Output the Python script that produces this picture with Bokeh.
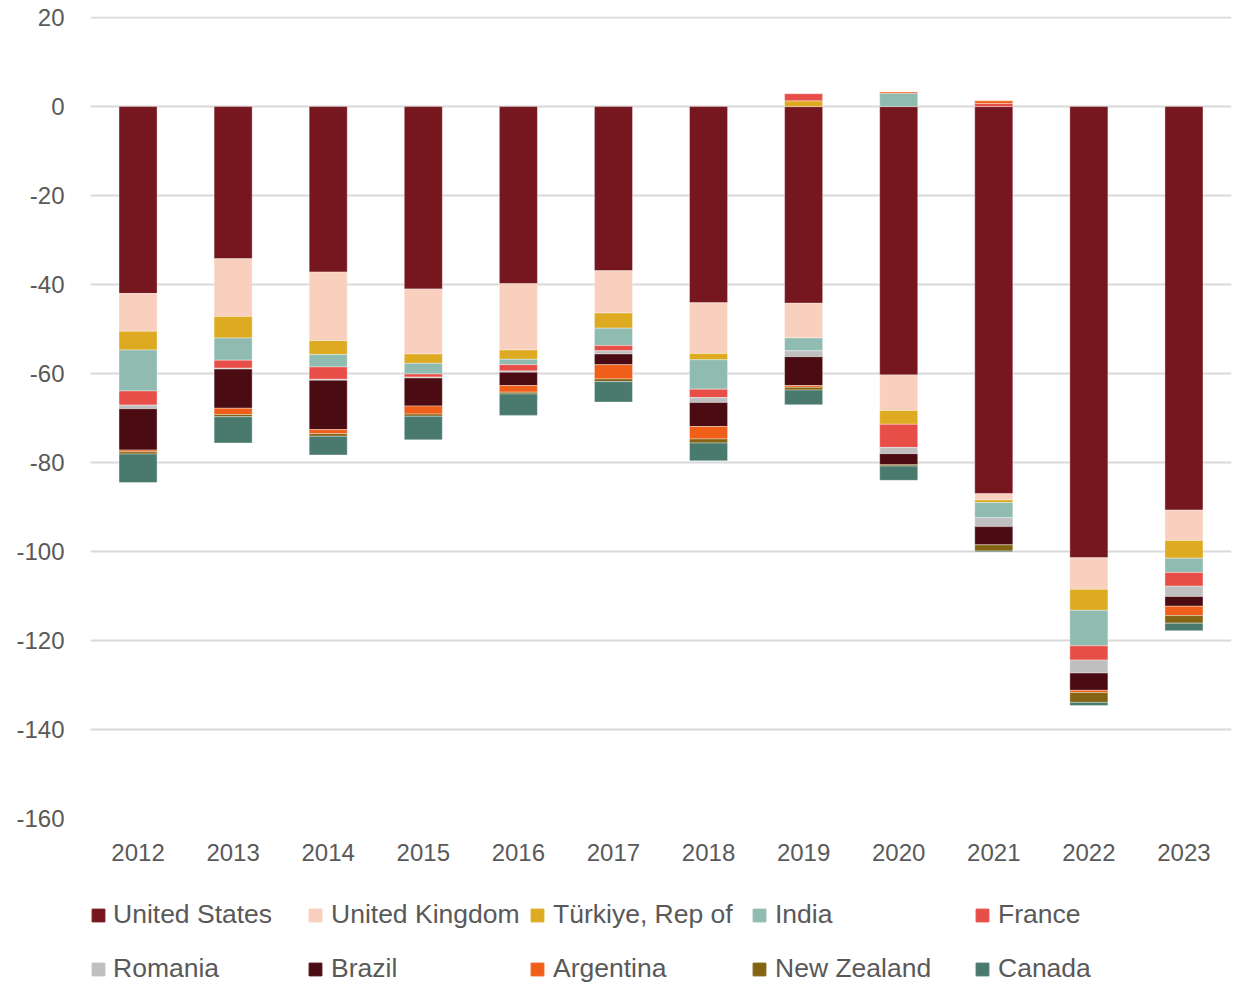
import numpy as np
from bokeh.plotting import figure
from bokeh.layouts import column
from bokeh.models import (ColumnDataSource, Range1d, FixedTicker, Legend, LegendItem,
                          FactorRange, PrintfTickFormatter)
from bokeh.embed import file_html
from bokeh.resources import INLINE

years = [str(y) for y in range(2012, 2024)]

united_states = [-42.0, -34.2, -37.2, -41.0, -39.8, -36.9, -44.1, -44.2, -60.3, -87.0, -101.4, -90.7]
united_kingdom = [-8.5, -13.0, -15.4, -14.6, -14.9, -9.5, -11.4, -7.8, -8.0, -1.4, -7.1, -6.8]
turkiye = [-4.2, -4.8, -3.1, -2.1, -2.1, -3.4, -1.4, 1.3, -3.1, -0.6, -4.7, -4.0]
india = [-9.2, -5.0, -2.8, -2.4, -1.2, -3.9, -6.6, -2.9, 3.0, -3.4, -8.0, -3.2]
france = [-3.2, -1.8, -2.8, -0.7, -1.4, -1.2, -1.9, 1.6, -5.2, 0.7, -3.2, -3.1]
romania = [-0.8, -0.2, -0.2, -0.2, -0.3, -0.7, -1.1, -1.3, -1.4, -2.0, -2.9, -2.3]
brazil = [-9.3, -8.8, -11.1, -6.3, -3.0, -2.4, -5.4, -6.5, -2.5, -4.1, -3.9, -2.2]
argentina = [-0.4, -1.4, -0.9, -1.8, -1.5, -3.2, -2.8, -0.4, 0.3, 0.6, -0.5, -2.1]
new_zealand = [-0.5, -0.5, -0.6, -0.5, -0.4, -0.6, -0.9, -0.6, -0.3, -1.4, -2.2, -1.7]
canada = [-6.4, -5.9, -4.2, -5.3, -4.8, -4.6, -4.0, -3.3, -3.2, -0.2, -0.7, -1.7]

names = ["United States", "United Kingdom", "Türkiye, Rep of", "India", "France",
         "Romania", "Brazil", "Argentina", "New Zealand", "Canada"]
values = [united_states, united_kingdom, turkiye, india, france,
          romania, brazil, argentina, new_zealand, canada]
colors = ["#76161E", "#F9CFBD", "#DDAA22", "#90BBB0", "#E84E48",
          "#BFBFBF", "#4A0C12", "#F05F1A", "#846414", "#4A7A6E"]

y_ticks = [-160, -140, -120, -100, -80, -60, -40, -20, 0, 20]

FONT = "Liberation Sans"
TXT = "#595959"

p = figure(width=1240, height=878,
           x_range=FactorRange(factors=years, range_padding=0),
           y_range=Range1d(-160, 20.25),
           output_backend="svg", toolbar_location=None,
           min_border_left=90, min_border_right=9,
           min_border_top=16, min_border_bottom=60)
p.outline_line_color = None
p.background_fill_color = "white"
p.border_fill_color = "white"

# legend-only figure (bars there are outside its visible range)
lf = figure(width=1240, height=106,
            x_range=FactorRange(factors=years, range_padding=0),
            y_range=Range1d(1000, 1001),
            output_backend="svg", toolbar_location=None,
            min_border_left=90, min_border_right=9, min_border_top=0, min_border_bottom=0)
lf.axis.visible = False
lf.grid.visible = False
lf.outline_line_color = None

pos = np.zeros(len(years))
neg = np.zeros(len(years))
renderers = []
legend_renderers = []
for name, vals, color in zip(names, values, colors):
    v = np.array(vals, dtype=float)
    bottom = np.where(v >= 0, pos, neg)
    top = bottom + v
    pos = np.where(v >= 0, top, pos)
    neg = np.where(v < 0, top, neg)
    src = ColumnDataSource(dict(x=years, top=top, bottom=bottom))
    r = p.vbar(x="x", top="top", bottom="bottom", width=0.4, source=src,
               fill_color=color, line_color="white", line_width=0.6, line_alpha=0.6)
    renderers.append(r)
    lr = lf.vbar(x="x", top="top", bottom="bottom", width=0.4, source=src,
                 fill_color=color, line_color=color)
    legend_renderers.append(lr)

# axes
p.yaxis.ticker = FixedTicker(ticks=y_ticks)
p.yaxis.formatter = PrintfTickFormatter(format="%d")
p.yaxis.axis_line_color = None
p.yaxis.major_tick_line_color = None
p.yaxis.minor_tick_line_color = None
p.yaxis.major_tick_out = 0
p.yaxis.major_label_standoff = 26
p.yaxis.major_label_text_font = FONT
p.yaxis.major_label_text_font_size = "24px"
p.yaxis.major_label_text_color = TXT

p.xaxis.axis_line_color = None
p.xaxis.major_tick_line_color = None
p.xaxis.minor_tick_line_color = None
p.xaxis.major_tick_out = 0
p.xaxis.major_label_standoff = 25
p.xaxis.major_label_text_font = FONT
p.xaxis.major_label_text_font_size = "24px"
p.xaxis.major_label_text_color = TXT

p.xgrid.grid_line_color = None
p.ygrid.grid_line_color = "#D9D9D9"
p.ygrid.grid_line_width = 2

# legend: 2 rows x 5 columns, each entry placed on its own
col_x = [0, 217, 439, 661, 884]
row_y = [54, 0]
for i, (name, r) in enumerate(zip(names, legend_renderers)):
    row, col = divmod(i, 5)
    leg = Legend(items=[LegendItem(label=name, renderers=[r])],
                 location=(col_x[col], row_y[row]),
                 glyph_width=16, glyph_height=16, label_standoff=7 if col == 0 else 8,
                 label_text_font=FONT, label_text_font_size="26.5px",
                 label_text_color=TXT, label_height=24,
                 padding=0, margin=0, spacing=0,
                 background_fill_alpha=0, border_line_alpha=0)
    lf.add_layout(leg)

layout = column(p, lf, spacing=0)
open("out.html", "w").write(file_html(layout, INLINE))
